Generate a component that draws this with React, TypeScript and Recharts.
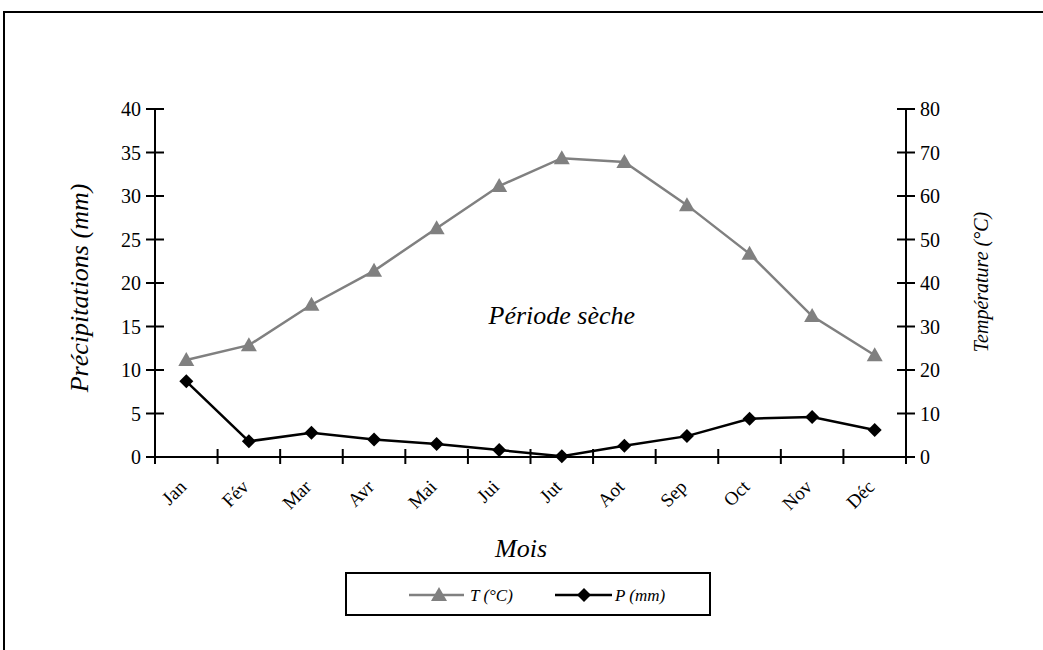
import { LineChart, Line, XAxis, YAxis, ReferenceDot } from 'recharts';

const months = ['Jan', 'Fév', 'Mar', 'Avr', 'Mai', 'Jui', 'Jut', 'Aot', 'Sep', 'Oct', 'Nov', 'Déc'];
const temperature = [22.3, 25.7, 35, 42.8, 52.6, 62.3, 68.7, 67.8, 57.9, 46.7, 32.4, 23.4];
const precipitation = [8.7, 1.8, 2.8, 2.0, 1.5, 0.8, 0.1, 1.3, 2.4, 4.4, 4.6, 3.1];
const precipTicks = [0, 5, 10, 15, 20, 25, 30, 35, 40];
const tempTicks = [0, 10, 20, 30, 40, 50, 60, 70, 80];

const data = months.map((m, i) => ({ month: m, T: temperature[i], P: precipitation[i] }));

const FONT = 'Liberation Serif, DejaVu Serif, serif';
const GREY = '#808080';

const Triangle = (props: any) => {
  const { cx, cy } = props;
  if (cx == null || cy == null) return null;
  return <polygon points={`${cx},${cy - 8} ${cx - 8},${cy + 6} ${cx + 8},${cy + 6}`} fill={GREY} />;
};

const Diamond = (props: any) => {
  const { cx, cy } = props;
  if (cx == null || cy == null) return null;
  return <polygon points={`${cx},${cy - 7} ${cx + 7},${cy} ${cx},${cy + 7} ${cx - 7},${cy}`} fill="#000" />;
};

const MonthTick = (props: any) => {
  const { x, y, payload, index, width, visibleTicksCount } = props;
  const step = width / visibleTicksCount;
  const last = index === visibleTicksCount - 1;
  const tx = x - 2;
  const ty = y + 28;
  return (
    <g>
      <line x1={x - step / 2} x2={x - step / 2} y1={y - 8} y2={y + 7} stroke="#000" strokeWidth={2} />
      {last && <line x1={x + step / 2} x2={x + step / 2} y1={y - 8} y2={y + 7} stroke="#000" strokeWidth={2} />}
      <text
        x={tx}
        y={ty}
        transform={`rotate(-45, ${tx}, ${ty})`}
        textAnchor="end"
        dominantBaseline="middle"
        fontFamily={FONT}
        fontSize={19}
        fill="#000"
      >
        {payload.value}
      </text>
    </g>
  );
};

const LeftTick = (props: any) => {
  const { x, y, payload } = props;
  return (
    <g>
      <line x1={x - 9} x2={x + 9} y1={y} y2={y} stroke="#000" strokeWidth={2} />
      <text x={x - 14} y={y} textAnchor="end" dominantBaseline="central" fontFamily={FONT} fontSize={20} fill="#000">
        {payload.value}
      </text>
    </g>
  );
};

const RightTick = (props: any) => {
  const { x, y, payload } = props;
  return (
    <g>
      <line x1={x - 9} x2={x + 9} y1={y} y2={y} stroke="#000" strokeWidth={2} />
      <text x={x + 14} y={y} textAnchor="start" dominantBaseline="central" fontFamily={FONT} fontSize={20} fill="#000">
        {payload.value}
      </text>
    </g>
  );
};

export default function App() {
  return (
    <div style={{ position: 'fixed', left: 0, top: 0, width: 1043, height: 650, background: '#fff', overflow: 'hidden', fontFamily: FONT }}>
      <div
        style={{
          position: 'absolute',
          left: 3,
          top: 11,
          width: 1100,
          height: 700,
          borderTop: '2px solid #000',
          borderLeft: '2px solid #000',
        }}
      />
      <LineChart
        width={1043}
        height={650}
        data={data}
        margin={{ top: 109, right: 77, bottom: 113, left: 95 }}
        style={{ position: 'absolute', left: 0, top: 0 }}
      >
        <XAxis
          dataKey="month"
          scale="band"
          height={80}
          axisLine={{ stroke: '#000', strokeWidth: 2 }}
          tickLine={false}
          tickSize={0}
          tickMargin={0}
          interval={0}
          tick={<MonthTick />}
        />
        <YAxis
          yAxisId="p"
          width={60}
          domain={[0, 40]}
          ticks={precipTicks}
          axisLine={{ stroke: '#000', strokeWidth: 2 }}
          tickLine={false}
          tickSize={0}
          tickMargin={0}
          tick={<LeftTick />}
        />
        <YAxis
          yAxisId="t"
          orientation="right"
          width={60}
          domain={[0, 80]}
          ticks={tempTicks}
          axisLine={{ stroke: '#000', strokeWidth: 2 }}
          tickLine={false}
          tickSize={0}
          tickMargin={0}
          tick={<RightTick />}
        />
        <ReferenceDot
          yAxisId="p"
          x="Jut"
          y={16.4}
          r={0}
          label={{ value: 'Période sèche', position: 'center', fontFamily: FONT, fontSize: 26, fontStyle: 'italic', fill: '#000' }}
        />
        <Line
          yAxisId="t"
          dataKey="T"
          stroke={GREY}
          strokeWidth={2.5}
          dot={<Triangle />}
          isAnimationActive={false}
        />
        <Line
          yAxisId="p"
          dataKey="P"
          stroke="#000"
          strokeWidth={2.5}
          dot={<Diamond />}
          isAnimationActive={false}
        />
      </LineChart>
      <div
        style={{
          position: 'absolute',
          left: 80,
          top: 288,
          transform: 'translate(-50%, -50%) rotate(-90deg)',
          whiteSpace: 'nowrap',
          fontStyle: 'italic',
          fontSize: 26,
        }}
      >
        Précipitations (mm)
      </div>
      <div
        style={{
          position: 'absolute',
          left: 981,
          top: 282,
          transform: 'translate(-50%, -50%) rotate(-90deg)',
          whiteSpace: 'nowrap',
          fontStyle: 'italic',
          fontSize: 20,
        }}
      >
        Température (°C)
      </div>
      <div
        style={{
          position: 'absolute',
          left: 521,
          top: 549,
          transform: 'translate(-50%, -50%)',
          whiteSpace: 'nowrap',
          fontStyle: 'italic',
          fontSize: 26,
        }}
      >
        Mois
      </div>
      <div
        style={{
          position: 'absolute',
          left: 345,
          top: 572,
          width: 362,
          height: 40,
          border: '2px solid #000',
        }}
      >
        <svg width={362} height={40} style={{ position: 'absolute', left: 0, top: 0 }}>
          <line x1={62} x2={117} y1={21} y2={21} stroke={GREY} strokeWidth={2.5} />
          <Triangle cx={92} cy={21} />
          <text x={123} y={21} dominantBaseline="central" fontFamily={FONT} fontSize={17} fontStyle="italic">
            T (°C)
          </text>
          <line x1={208} x2={265} y1={21} y2={21} stroke="#000" strokeWidth={2.5} />
          <Diamond cx={237} cy={21} />
          <text x={268} y={21} dominantBaseline="central" fontFamily={FONT} fontSize={17} fontStyle="italic">
            P (mm)
          </text>
        </svg>
      </div>
    </div>
  );
}
